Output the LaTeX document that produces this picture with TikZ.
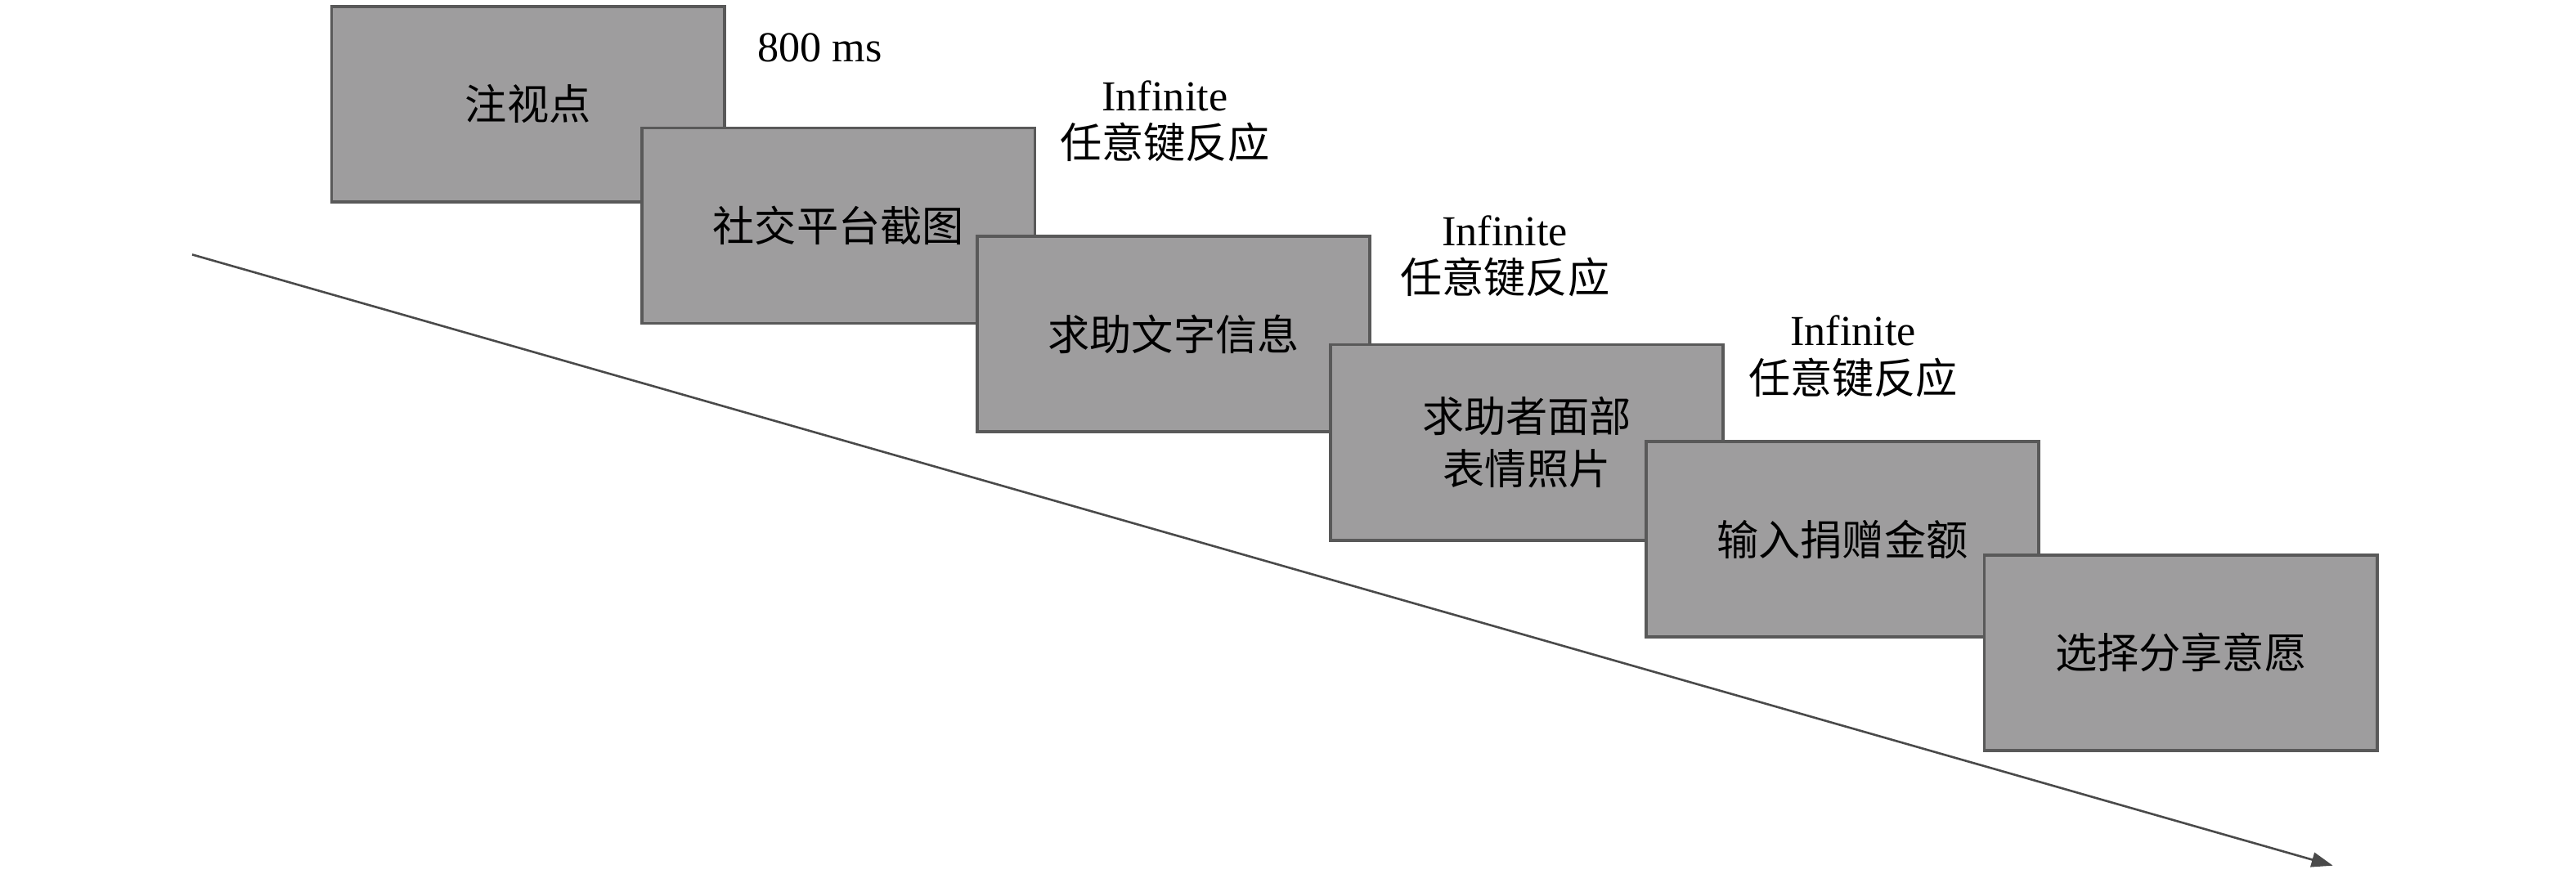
\documentclass[tikz,border=0pt]{standalone}
\usepackage{fontspec}
\setmainfont{Liberation Serif}
\newfontfamily\cjk{Noto Sans CJK SC}
\usetikzlibrary{arrows.meta}
\definecolor{boxfill}{HTML}{9E9D9E}
\definecolor{boxdraw}{HTML}{595959}
\definecolor{linecol}{HTML}{4A4A4A}
\begin{document}
\begin{tikzpicture}[x=1pt,y=-1pt,
  stimbox/.style={draw=boxdraw,line width=1.8pt,fill=boxfill,anchor=north west,
    minimum width=239pt,minimum height=119pt,inner sep=0pt,align=center,
    font=\cjk\fontsize{25.5}{32}\selectfont},
  timelbl/.style={align=center,font=\fontsize{26}{29}\selectfont,inner sep=0pt}]
\useasboundingbox (0,0) rectangle (1568,532);
% timeline
\coordinate (tstart) at (117,155);
\coordinate (tend) at (1420,527);
\draw[linecol,line width=1.3pt,-{Triangle[length=13pt,width=9pt]}] (tstart) -- (tend);
% boxes
\node[stimbox] (b1) at (201,3) {\raisebox{-4pt}{注视点}};
\node[stimbox] (b2) at (390,77) {\raisebox{-3pt}{社交平台截图}};
\node[stimbox] (b3) at (594,143) {求助文字信息};
\node[stimbox] (b4) at (809,209) {求助者面部\\表情照片};
\node[stimbox] (b5) at (1001,268) {\raisebox{-3pt}{输入捐赠金额}};
\node[stimbox] (b6) at (1207,337) {选择分享意愿};
% labels
\node[timelbl] (l1) at (499,29) {800 ms};
\node[timelbl] (l2) at (709,74) {Infinite\\{\cjk\fontsize{25.5}{29}\selectfont 任意键反应}};
\node[timelbl] (l3) at (916,156) {Infinite\\{\cjk\fontsize{25.5}{29}\selectfont 任意键反应}};
\node[timelbl] (l4) at (1128,217) {Infinite\\{\cjk\fontsize{25.5}{29}\selectfont 任意键反应}};
\end{tikzpicture}
\end{document}
